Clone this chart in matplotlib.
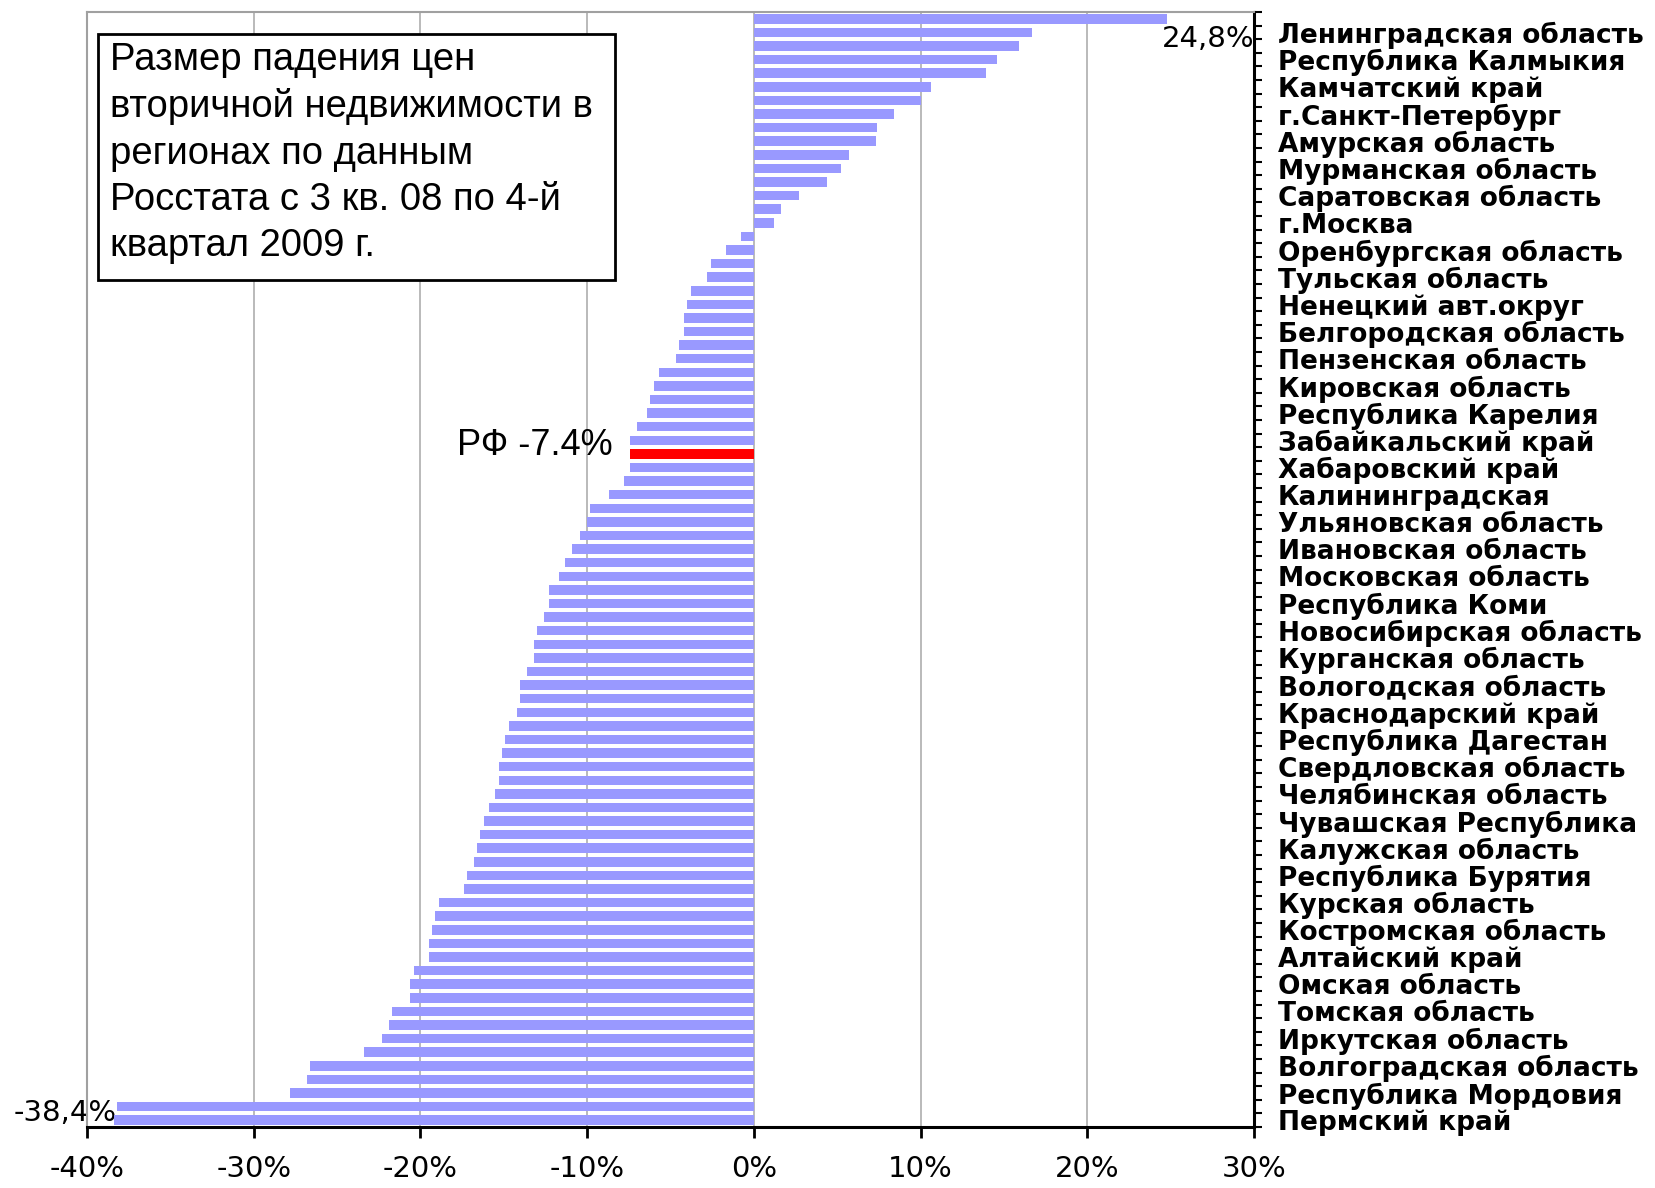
import numpy as np
import matplotlib.pyplot as plt
from matplotlib.patches import Rectangle

# price change by region, top to bottom (%), every second one is labelled
values = [24.8, 16.7, 15.9, 14.6, 13.9, 10.6, 10.0, 8.4, 7.4, 7.3,
          5.7, 5.2, 4.4, 2.7, 1.6, 1.2, -0.8, -1.7, -2.6, -2.8,
          -3.8, -4.0, -4.2, -4.2, -4.5, -4.7, -5.7, -6.0, -6.2, -6.4,
          -7.0, -7.4, -7.4, -7.4, -7.8, -8.7, -9.8, -10.0, -10.4, -10.9,
          -11.3, -11.7, -12.3, -12.3, -12.6, -13.0, -13.2, -13.2, -13.6, -14.0,
          -14.0, -14.2, -14.7, -14.9, -15.1, -15.3, -15.3, -15.5, -15.9, -16.2,
          -16.4, -16.6, -16.8, -17.2, -17.4, -18.9, -19.1, -19.3, -19.5, -19.5,
          -20.4, -20.6, -20.6, -21.7, -21.9, -22.3, -23.4, -26.6, -26.8, -27.8,
          -38.2, -38.4]
rf_index = 32
rf_value = -7.4

region_labels = ["Ленинградская область", "Республика Калмыкия", "Камчатский край",
                 "г.Санкт-Петербург", "Амурская область", "Мурманская область",
                 "Саратовская область", "г.Москва", "Оренбургская область",
                 "Тульская область", "Ненецкий авт.округ", "Белгородская область",
                 "Пензенская область", "Кировская область", "Республика Карелия",
                 "Забайкальский край", "Хабаровский край", "Калининградская",
                 "Ульяновская область", "Ивановская область", "Московская область",
                 "Республика Коми", "Новосибирская область", "Курганская область",
                 "Вологодская область", "Краснодарский край", "Республика Дагестан",
                 "Свердловская область", "Челябинская область", "Чувашская Республика",
                 "Калужская область", "Республика Бурятия", "Курская область",
                 "Костромская область", "Алтайский край", "Омская область",
                 "Томская область", "Иркутская область", "Волгоградская область",
                 "Республика Мордовия", "Пермский край"]

x_ticks = [-40, -30, -20, -10, 0, 10, 20, 30]

title_text = ("Размер падения цен\nвторичной недвижимости в\nрегионах по данным\n"
              "Росстата с 3 кв. 08 по 4-й\nквартал 2009 г.")

W, H = 1655, 1188
fig = plt.figure(figsize=(W / 100, H / 100), dpi=100)
ax = fig.add_axes([87 / W, 1 - 1127 / H, (1254 - 87) / W, (1127 - 12) / H])

pos = np.arange(len(values))
colors = ['#ff0000' if i == rf_index else '#9999ff' for i in pos]
ax.barh(pos, values, height=0.7, color=colors, zorder=2)

ax.set_xlim(x_ticks[0], x_ticks[-1])
ax.set_ylim(len(values) - 0.5, -0.5)

ax.set_xticks(x_ticks)
ax.set_xticklabels([f"{t}%" for t in x_ticks], fontsize=21, family='DejaVu Sans')
ax.xaxis.grid(True, color='#b4b4b4', lw=1.3, zorder=0)
ax.tick_params(axis='x', length=8, width=2, direction='out', pad=12)

# category axis on the right, labels for every second region
ax.yaxis.tick_right()
ax.set_yticks(pos[1::2])
ax.set_yticklabels(region_labels, fontsize=19, family='DejaVu Sans', fontweight='bold')
ax.set_yticks(np.arange(-0.5, len(values), 1), minor=True)
ax.tick_params(axis='y', which='major', length=0, pad=17)
ax.tick_params(axis='y', which='minor', length=6, width=1.5, direction='out', right=True, left=False)

for side in ['top', 'left']:
    ax.spines[side].set_color('#a0a0a0')
    ax.spines[side].set_linewidth(1.5)
for side in ['right', 'bottom']:
    ax.spines[side].set_color('black')
    ax.spines[side].set_linewidth(2.2)

# data labels
ax.text(x_ticks[-1], 1.5, "24,8%", ha='right', va='center', fontsize=21,
        family='DejaVu Sans', clip_on=False, zorder=3)
ax.text(values[-1] + 0.2, len(values) - 1.5, "-38,4%", ha='right', va='center',
        fontsize=21, family='DejaVu Sans', clip_on=False, zorder=1)
ax.text(rf_value - 1.1, rf_index - 0.6, "РФ -7.4%", ha='right', va='center',
        fontsize=26, family='Liberation Sans', zorder=3)

# caption box
fig.patches.append(Rectangle((98 / W, 1 - 280 / H), (615 - 98) / W, (280 - 34) / H,
                             transform=fig.transFigure, facecolor='white',
                             edgecolor='black', lw=2, zorder=5))
fig.text(110 / W, 1 - 42 / H, title_text, ha='left', va='top', fontsize=27.5,
         family='Liberation Sans', linespacing=1.36, zorder=6)

fig.savefig('out.png', dpi=100)
